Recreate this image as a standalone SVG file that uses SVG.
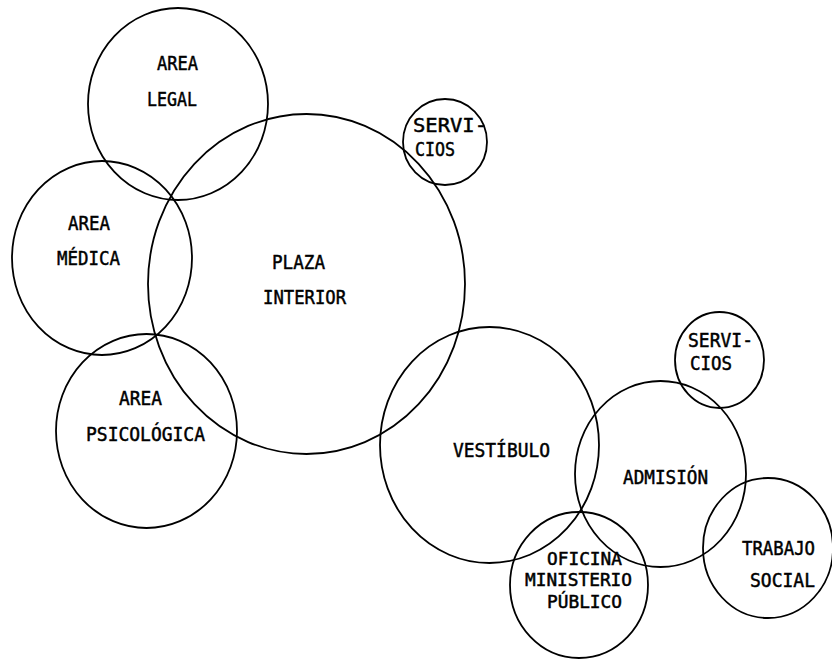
<svg xmlns="http://www.w3.org/2000/svg" width="832" height="661" viewBox="0 0 832 661">
<style>
.c{fill:none;stroke:#000;stroke-width:1.8}
text{font-family:"DejaVu Sans Mono","Liberation Mono",monospace;font-size:20px;fill:#000;stroke:#000;stroke-width:0.5}
.s{font-size:17.5px}
</style>
<rect width="832" height="661" fill="#fff"/>
<g id="area-legal">
<ellipse class="c" cx="178" cy="104" rx="90" ry="96"/>
<text x="157" y="70" textLength="41" lengthAdjust="spacingAndGlyphs">AREA</text>
<text x="147" y="106" textLength="50" lengthAdjust="spacingAndGlyphs">LEGAL</text>
</g>
<g id="servicios-1">
<ellipse class="c" cx="445" cy="142" rx="42" ry="43"/>
<text x="413" y="132" textLength="74" lengthAdjust="spacingAndGlyphs">SERVI-</text>
<text x="415" y="156" textLength="40" lengthAdjust="spacingAndGlyphs">CIOS</text>
</g>
<g id="plaza-interior">
<ellipse class="c" cx="306.5" cy="284" rx="158.5" ry="170"/>
<text x="272" y="269" textLength="53" lengthAdjust="spacingAndGlyphs">PLAZA</text>
<text x="263" y="304" textLength="83" lengthAdjust="spacingAndGlyphs">INTERIOR</text>
</g>
<g id="area-medica">
<ellipse class="c" cx="102" cy="258" rx="90" ry="97"/>
<text x="68" y="230" textLength="42" lengthAdjust="spacingAndGlyphs">AREA</text>
<text x="57" y="265" textLength="63" lengthAdjust="spacingAndGlyphs">MÉDICA</text>
</g>
<g id="area-psicologica">
<ellipse class="c" cx="146.5" cy="431" rx="90.5" ry="97"/>
<text x="119" y="405" textLength="43" lengthAdjust="spacingAndGlyphs">AREA</text>
<text x="86" y="441" textLength="119" lengthAdjust="spacingAndGlyphs">PSICOLÓGICA</text>
</g>
<g id="vestibulo">
<ellipse class="c" cx="489.5" cy="445" rx="109.5" ry="118"/>
<text x="453" y="457" textLength="97" lengthAdjust="spacingAndGlyphs">VESTÍBULO</text>
</g>
<g id="servicios-2">
<ellipse class="c" cx="719.5" cy="360" rx="44.5" ry="48"/>
<text x="688" y="347" textLength="65" lengthAdjust="spacingAndGlyphs">SERVI-</text>
<text x="690" y="370" textLength="42" lengthAdjust="spacingAndGlyphs">CIOS</text>
</g>
<g id="admision">
<ellipse class="c" cx="660.5" cy="474" rx="85.5" ry="93"/>
<text x="623" y="484" textLength="85" lengthAdjust="spacingAndGlyphs">ADMISIÓN</text>
</g>
<g id="oficina-ministerio-publico">
<ellipse class="c" cx="579" cy="585" rx="69" ry="73"/>
<text class="s" x="547" y="565" textLength="75" lengthAdjust="spacingAndGlyphs">OFICINA</text>
<text class="s" x="525" y="586" textLength="107" lengthAdjust="spacingAndGlyphs">MINISTERIO</text>
<text class="s" x="547" y="608" textLength="75" lengthAdjust="spacingAndGlyphs">PÚBLICO</text>
</g>
<g id="trabajo-social">
<ellipse class="c" cx="768" cy="548" rx="65" ry="70"/>
<text x="742" y="555" textLength="73" lengthAdjust="spacingAndGlyphs">TRABAJO</text>
<text x="750" y="587" textLength="65" lengthAdjust="spacingAndGlyphs">SOCIAL</text>
</g>
</svg>
